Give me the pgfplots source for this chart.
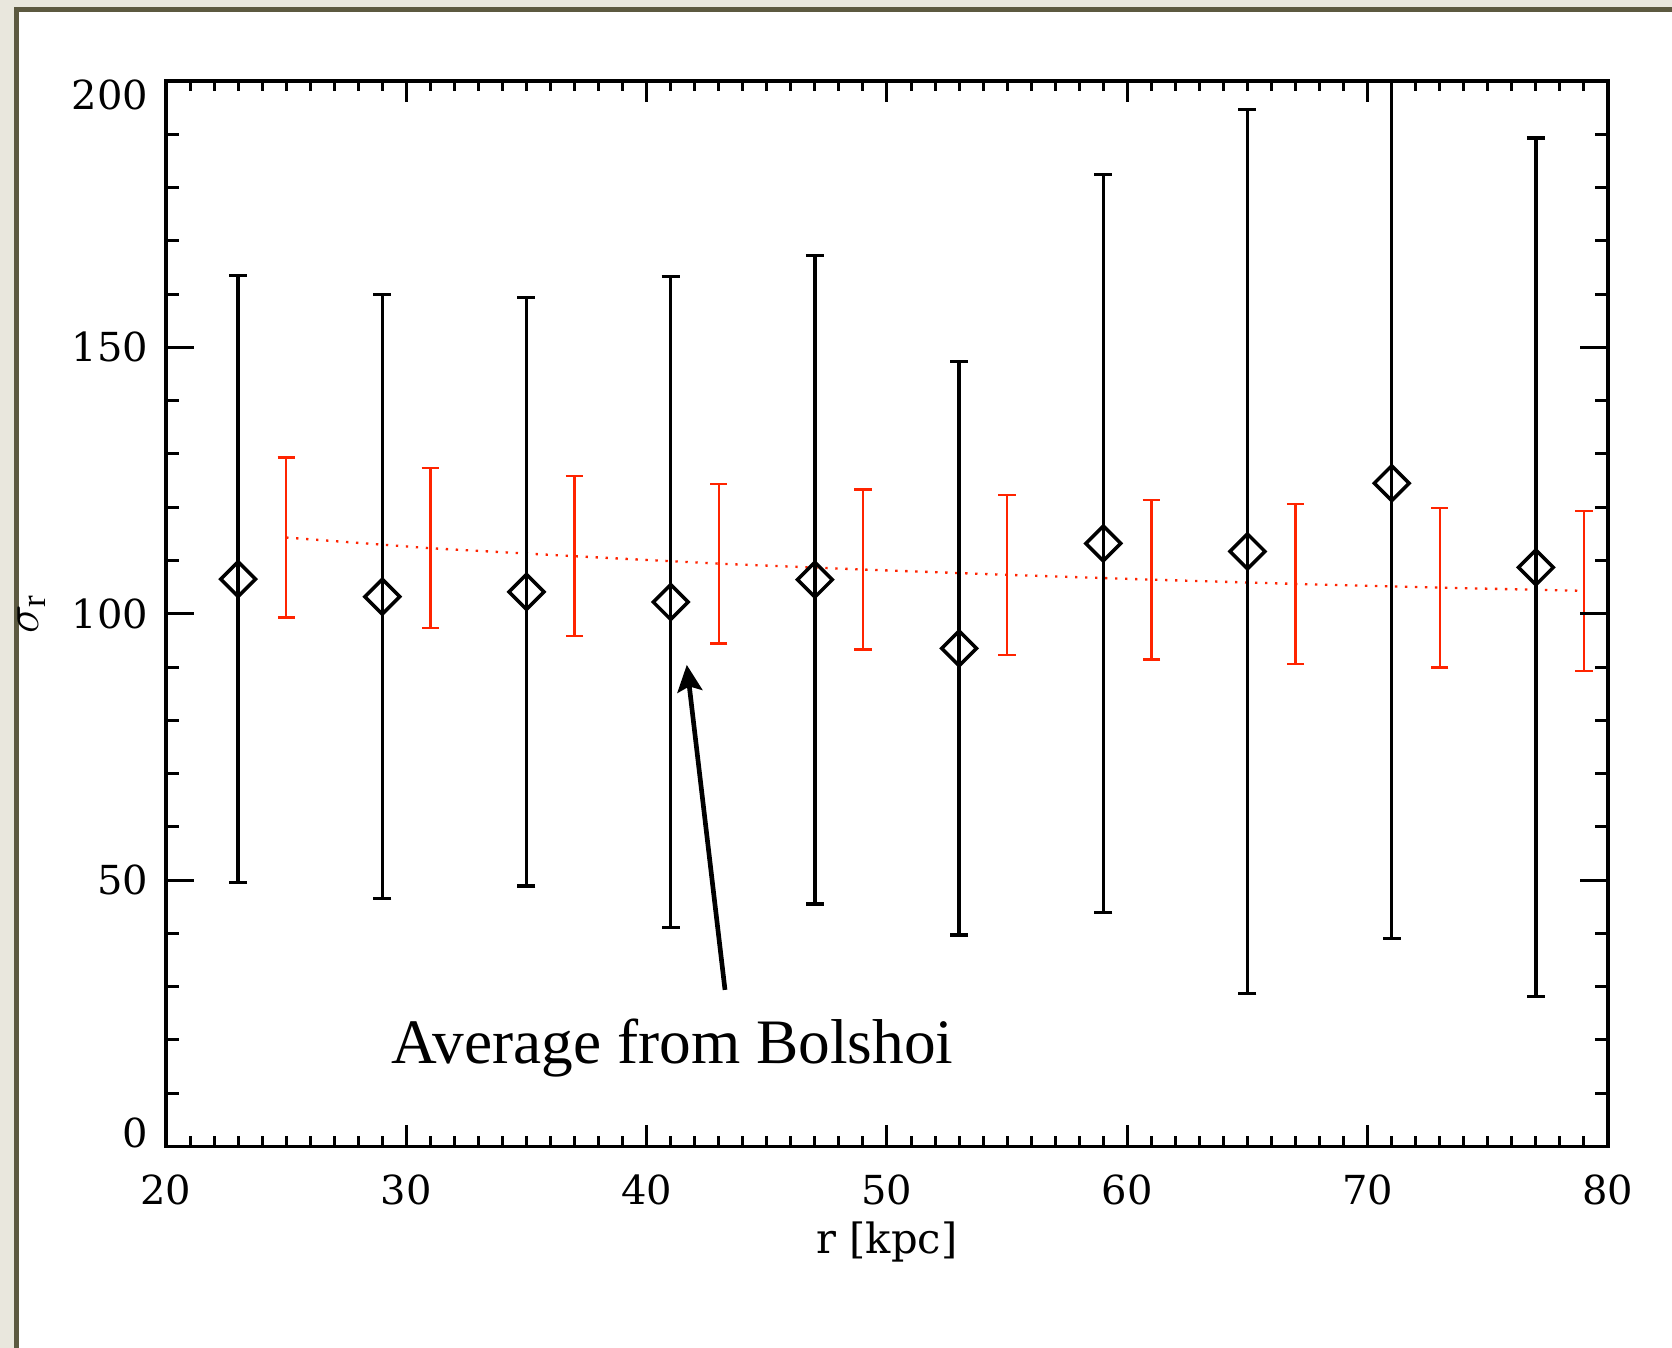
\documentclass[border=0pt]{standalone}
\usepackage{pgfplots}
\pgfplotsset{compat=1.18}
\usepackage{pgfplotstable}
\usepackage{fontspec}
\setmainfont{Liberation Serif}
\newfontfamily\timesfont{Liberation Serif}
\newfontfamily\idl{DejaVu Serif}
\usetikzlibrary{arrows.meta}
\definecolor{bgbeige}{RGB}{233,231,221}
\definecolor{frameolive}{RGB}{92,89,64}
\definecolor{idlred}{RGB}{255,36,0}

\pgfplotstableread{
x y e
23 106.5 57.0
29 103.2 56.7
35 104.1 55.2
41 102.2 61.1
47 106.4 60.9
53 93.5 53.8
59 113.2 69.3
65 111.7 83.0
71 124.5 85.4
77 108.7 80.6
}\blackdata

\pgfplotstableread{
x y e
25 114.3 15
31 112.3 15
37 110.8 15
43 109.4 15
49 108.3 15
55 107.3 15
61 106.4 15
67 105.6 15
73 104.9 15
79 104.3 15
}\reddata

\begin{document}
\begin{tikzpicture}
\fill[bgbeige] (0,0) rectangle (501.6pt,404.4pt);
\fill[white] (5.7pt,0) rectangle (501.6pt,400.9pt);
\draw[frameolive, line width=1.5pt] (4.95pt,0) -- (4.95pt,401.65pt) -- (501.6pt,401.65pt);
\pgfplotsset{
  idlbase/.style={
    at={(49.8pt,60.45pt)}, anchor=south west, scale only axis,
    width=432.6pt, height=319.65pt,
    xmin=20, xmax=80, ymin=0, ymax=200,
    tick align=inside,
    axis line style={line width=1pt},
    tick style={line width=0.9pt, black},
    tick label style={font=\idl\fontsize{12}{14}\selectfont},
    /pgf/number format/assume math mode=true,
  }
}
\begin{axis}[idlbase,
  xtick={20,30,...,80}, minor x tick num=9, ytick=\empty,
  major tick length=6.3pt, minor tick length=3pt,
  xticklabel style={anchor=center, yshift=-13.1pt},
  xlabel={r [kpc]},
  every axis x label/.style={at={(axis description cs:0.5,-0.0892)}, anchor=center, font=\idl\fontsize{12.5}{15}\selectfont},
  clip mode=individual]
\addplot[idlred, mark=none, line width=0.7pt, dash pattern=on 0.7pt off 2.3pt,
  error bars/.cd, y dir=both, y explicit,
  error bar style={solid, line width=0.7pt},
  error mark options={rotate=90, solid, line width=0.7pt, mark size=2.6pt}]
  table[x=x, y=y, y error=e] {\reddata};
\addplot[black, only marks, mark=square, mark size=3.7pt,
  mark options={rotate=45, line width=1.05pt, solid},
  error bars/.cd, y dir=both, y explicit,
  error bar style={line width=1pt},
  error mark options={rotate=90, line width=1pt, mark size=2.7pt}]
  table[x=x, y=y, y error=e] {\blackdata};
\draw[line width=1.4pt, -{Stealth[length=8pt, width=7.5pt, inset=1.5pt]}] (axis cs:43.26,29.4) -- (axis cs:41.67,90.4);
\node[anchor=base, font=\timesfont\fontsize{19}{22}\selectfont] at (axis cs:41.08,15.5) {Average from Bolshoi};
\end{axis}
\begin{axis}[idlbase, xtick=\empty, ytick={0,50,100,150,200}, minor y tick num=4,
  yticklabels={{\raisebox{4.05pt}[\height][\depth]{0}},50,100,150,{\raisebox{-4.2pt}[\height][\depth]{200}}},
  major tick length=8.4pt, minor tick length=3.9pt,
  yticklabel style={anchor=east, inner sep=0pt, xshift=-5.1pt},
  ylabel={$\sigma_{\mathrm{r}}$},
  every axis y label/.style={at={(axis description cs:-0.0929,0.5)}, rotate=90, anchor=center, font=\fontsize{15}{17}\selectfont},
]
\end{axis}
\pgfresetboundingbox
\path[use as bounding box] (0,0) rectangle (501.6pt,404.4pt);
\end{tikzpicture}
\end{document}
